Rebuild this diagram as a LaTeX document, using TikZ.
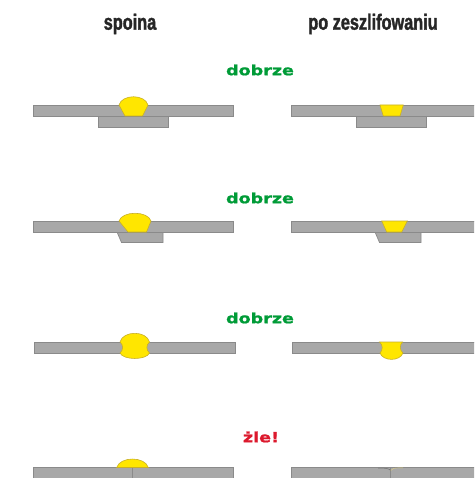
\documentclass[tikz,border=0pt]{standalone}
\usepackage{fontspec}
\newfontfamily\headfont[FakeStretch=0.74,FakeBold=1.6]{Liberation Sans Bold}
\newfontfamily\markfont[FakeStretch=1.25,FakeBold=1.2]{DejaVu Sans Bold}
\definecolor{plategray}{RGB}{168,168,168}
\definecolor{plateedge}{RGB}{138,138,138}
\definecolor{weldyellow}{RGB}{255,230,0}
\definecolor{weldedge}{RGB}{200,175,40}
\definecolor{okgreen}{RGB}{0,155,55}
\definecolor{badred}{RGB}{220,25,45}

\begin{document}
\begin{tikzpicture}[x=1pt,y=-1pt,
	plate/.style={fill=plategray,draw=plateedge,line width=0.7pt},
	weld/.style={fill=weldyellow,draw=weldedge,line width=0.6pt},
	head/.style={font=\headfont\fontsize{22}{24}\selectfont,text=black!85},
	verdict/.style={font=\markfont\fontsize{14}{16}\selectfont}]
	\useasboundingbox (0,0) rectangle (474,478);
	\clip (0,0) rectangle (474,478);

	% column heads
	\node[head] (spoina) at (130,24) {spoina};
	\node[head] (szlif) at (373,24) {po zeszlifowaniu};

	% sheets, same in both columns
	\foreach \dx in {0,258} {
		\begin{scope}[xshift=\dx pt]
			% lap joint
			\draw[plate] (98,116) rectangle (168,127);
			\draw[plate] (33,105) rectangle (233,116);
			% joggled lap joint
			\draw[plate] (117,232) -- (121.5,242.5) -- (163,242.5) -- (163,232) -- cycle;
			\draw[plate] (33,221) rectangle (233,232);
			% butt joint
			\draw[plate] (34,342) rectangle (235,353);
			% butt joint, one side only
			\draw[plate] (33,467.5) rectangle (233,492);
			\draw[plateedge,line width=0.7pt] (132.7,467.5) -- (132.7,480);
		\end{scope}
	}

	% welds as laid
	\draw[weld] (119,105) .. controls (122,94) and (145,94) .. (148,105) -- (142.5,116) -- (125,116) -- cycle;
	\draw[weld] (119,221) .. controls (122,210.7) and (148,210.7) .. (151,221) -- (146.5,232) -- (128,232) -- cycle;
	\draw[weld] (120,342) .. controls (123,330.4) and (146.5,330.4) .. (149.5,342)
		.. controls (146,345) and (146,350) .. (149.5,353)
		.. controls (146.5,360.3) and (123,360.3) .. (120,353)
		.. controls (123.5,350) and (123.5,345) .. cycle;
	\draw[weld] (116.7,467.5) .. controls (120,456.2) and (145,456.2) .. (148.3,467.5) -- cycle;

	% welds after grinding
	\begin{scope}[xshift=258pt]
		\draw[weld] (122,105) -- (145.3,105) -- (142,116) -- (125.3,116) -- cycle;
		\draw[weld] (123.7,221) -- (149.3,221) -- (143.7,232) -- (128.7,232) -- cycle;
		\draw[weld] (121.5,342) -- (144.5,342)
			.. controls (141.5,345) and (141.5,350) .. (145,353)
			.. controls (142,361.5) and (125,361.5) .. (122,353)
			.. controls (125,350) and (125,345) .. cycle;
		\draw[plateedge!80!black,line width=0.5pt] (120,468) .. controls (128,468) and (131,468.5) .. (132.7,470.5);
		\draw[weldedge!60,line width=0.4pt] (132.7,470.5) .. controls (135,468) .. (145,467.8);
	\end{scope}

	% verdicts
	\node[verdict,text=okgreen] (ok1) at (260,70) {dobrze};
	\node[verdict,text=okgreen] (ok2) at (260,198) {dobrze};
	\node[verdict,text=okgreen] (ok3) at (260,318) {dobrze};
	\node[verdict,text=badred] (zle) at (261,437) {żle!};
\end{tikzpicture}
\end{document}
